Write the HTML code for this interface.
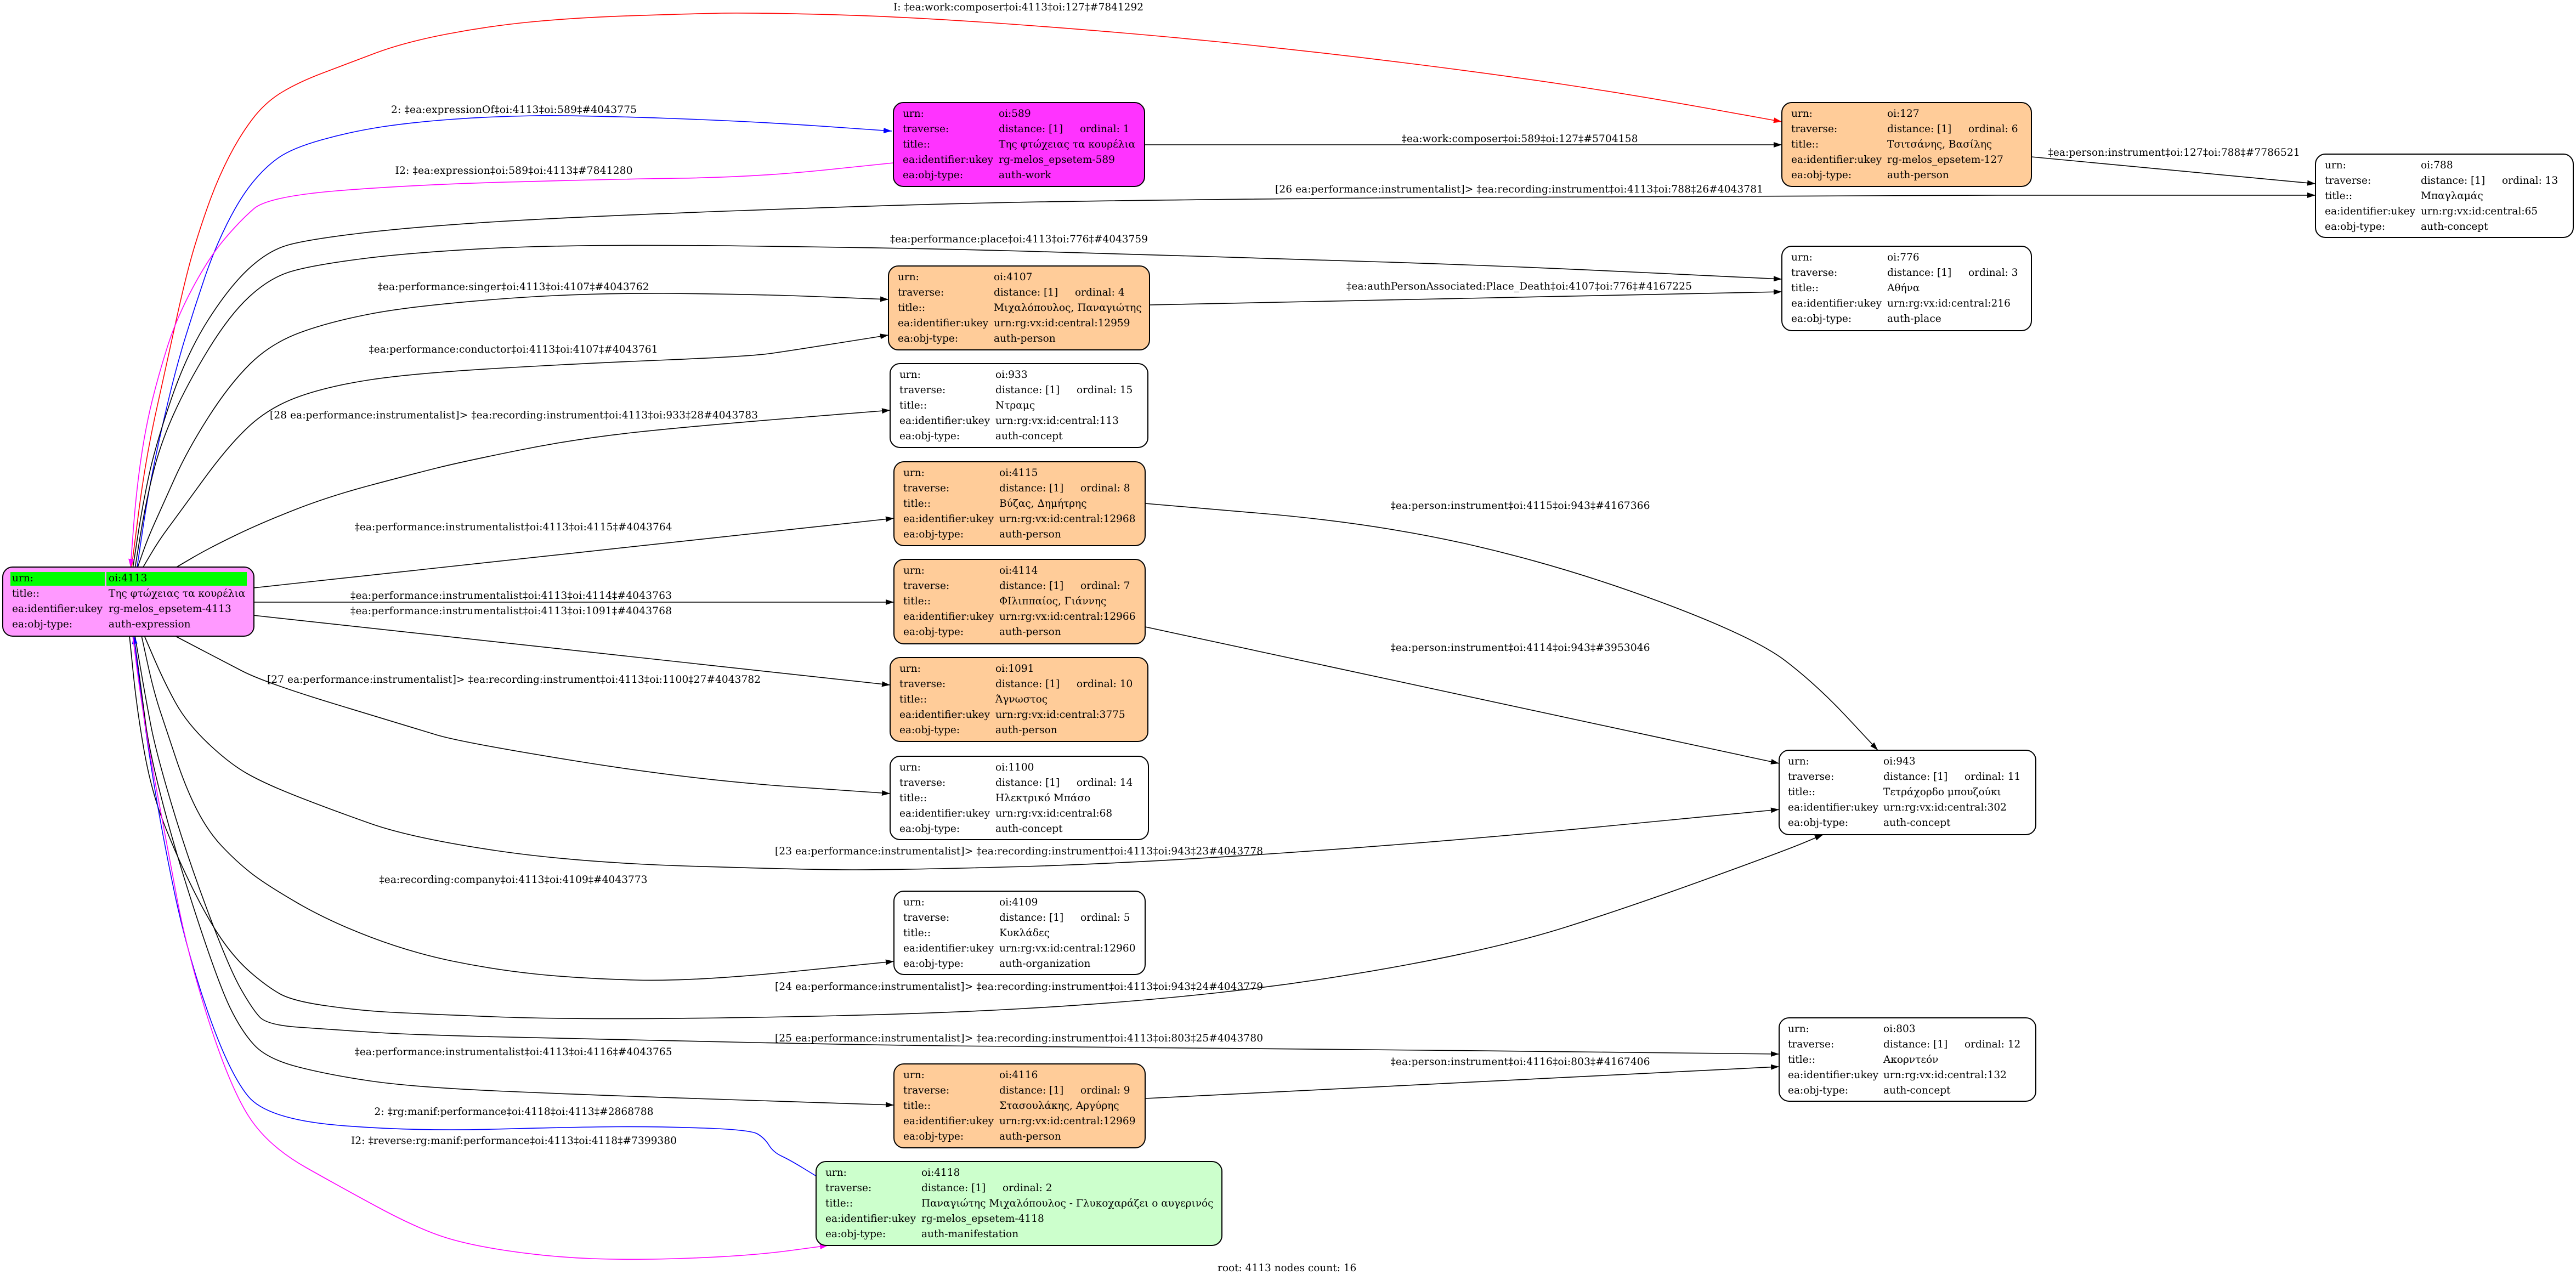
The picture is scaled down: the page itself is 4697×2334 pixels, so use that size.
<!DOCTYPE html>
<html><head><meta charset="utf-8"><style>
html,body{margin:0;padding:0;background:#fff;}
svg{display:block;}
text{font-family:"DejaVu Serif","Liberation Serif",serif;font-size:18.5px;fill:#000;}
</style></head><body>
<svg width="4697" height="2334" viewBox="0 0 4697 2334" xmlns="http://www.w3.org/2000/svg">
<defs>
<marker id="ak" markerUnits="userSpaceOnUse" markerWidth="16" markerHeight="12" refX="15" refY="6" orient="auto"><path d="M0,1 L15,6 L0,11 z" fill="#000"/></marker>
<marker id="ar" markerUnits="userSpaceOnUse" markerWidth="16" markerHeight="12" refX="15" refY="6" orient="auto"><path d="M0,1 L15,6 L0,11 z" fill="#f00"/></marker>
<marker id="ab" markerUnits="userSpaceOnUse" markerWidth="16" markerHeight="12" refX="15" refY="6" orient="auto"><path d="M0,1 L15,6 L0,11 z" fill="#00f"/></marker>
<marker id="am" markerUnits="userSpaceOnUse" markerWidth="16" markerHeight="12" refX="15" refY="6" orient="auto"><path d="M0,1 L15,6 L0,11 z" fill="#f0f"/></marker>
</defs>
<rect width="4697" height="2334" fill="#fff"/>

<!-- EDGES -->
<g fill="none" stroke-width="1.6" stroke-linejoin="round">
<path class="s" stroke="#f00" marker-end="url(#ar)" d="M240,1034 L265,839 L303,667 L341,494 L370,400 L399,322 L437,248 L483,187 L544,150 L631,117 L737,77 L894,47 L1052,32 L1263,25 L1368,23 L1650,30 L2050,59 L2388,93 L2725,135 L2978,173 L3249,222"/>
<path class="s" stroke="#00f" marker-end="url(#ab)" d="M250,1034 L270,900 L292,793 L322,667 L355,560 L391,454 L437,362 L483,305 L533,270 L640,240 L750,223 L900,212 L1052,210 L1368,221 L1626,239"/>
<path class="s" stroke="#f0f" marker-end="url(#am)" d="M1629,297 L1378,323 L1100,327 L750,337 L489,358 L437,403 L380,471 L322,580 L290,680 L265,781 L248,900 L238,1034"/>
<path stroke="#000" marker-end="url(#ak)" d="M2087,264 L3249,264"/>
<path stroke="#000" marker-end="url(#ak)" d="M3704,286 L4222,335"/>
<path class="s" stroke="#000" marker-end="url(#ak)" d="M242,1037 L260,920 L284,810 L341,644 L418,523 L489,457 L560,437 L750,414 L1052,395 L1650,373 L2050,365 L3063,356 L4222,356"/>
<path class="s" stroke="#000" marker-end="url(#ak)" d="M246,1037 L265,920 L292,810 L341,701 L418,575 L489,509 L560,485 L750,460 L1052,445 L1650,452 L2050,463 L2303,471 L2725,484 L3249,509"/>
<path stroke="#000" marker-end="url(#ak)" d="M2096,556 L3249,532"/>
<path class="s" stroke="#000" marker-end="url(#ak)" d="M250,1037 L270,980 L295,925 L341,822 L418,701 L494,626 L600,587 L750,558 L1052,534 L1368,536 L1620,546"/>
<path class="s" stroke="#000" marker-end="url(#ak)" d="M261,1034 L290,985 L322,942 L418,810 L494,741 L600,704 L750,681 L1052,663 L1368,650 L1450,638 L1620,611"/>
<path class="s" stroke="#000" marker-end="url(#ak)" d="M322,1034 L380,1000 L475,954 L600,905 L750,865 L842,842 L1050,800 L1263,777 L1623,748"/>
<path stroke="#000" marker-end="url(#ak)" d="M462,1072 L1630,945"/>
<path stroke="#000" marker-end="url(#ak)" d="M463,1098 L1630,1098"/>
<path stroke="#000" marker-end="url(#ak)" d="M462,1122 L1623,1249"/>
<path class="s" stroke="#000" marker-end="url(#ak)" d="M318,1159 L400,1202 L483,1245 L750,1326 L842,1354 L1263,1422 L1623,1447"/>
<path class="s" stroke="#000" marker-end="url(#ak)" d="M263,1159 L300,1245 L341,1319 L418,1392 L483,1429 L600,1475 L750,1528 L1052,1573 L1473,1586 L1650,1586 L2050,1575 L2624,1536 L3244,1476"/>
<path class="s" stroke="#000" marker-end="url(#ak)" d="M258,1159 L280,1260 L303,1330 L340,1440 L380,1517 L430,1570 L483,1612 L600,1680 L750,1737 L900,1768 L1052,1784 L1263,1790 L1630,1753"/>
<path class="s" stroke="#000" marker-end="url(#ak)" d="M236,1159 L250,1297 L276,1443 L322,1561 L380,1678 L430,1750 L487,1799 L533,1825 L650,1842 L750,1848 L1052,1860 L1650,1851 L2050,1829 L2394,1791 L2739,1727 L2968,1655 L3255,1551 L3324,1522"/>
<path class="s" stroke="#000" marker-end="url(#ak)" d="M246,1159 L265,1270 L284,1370 L341,1561 L418,1766 L460,1840 L487,1869 L600,1877 L750,1887 L1052,1894 L1650,1907 L2050,1909 L3244,1922"/>
<path class="s" stroke="#000" marker-end="url(#ak)" d="M244,1159 L258,1260 L272,1370 L322,1561 L399,1795 L440,1880 L487,1931 L600,1960 L750,1982 L1052,1996 L1630,2015"/>
<path class="s" stroke="#000" marker-end="url(#ak)" d="M2088,918 L2509,954 L2854,1033 L3198,1161 L3313,1249 L3424,1368"/>
<path stroke="#000" marker-end="url(#ak)" d="M2088,1143 L3244,1392"/>
<path stroke="#000" marker-end="url(#ak)" d="M2088,2003 L3244,1945"/>
<path class="s" stroke="#00f" marker-end="url(#ab)" d="M1489,2145 L1440,2115 L1410,2101 L1394,2075 L1368,2060 L1200,2054 L1052,2055 L750,2063 L487,2041 L418,1957 L341,1737 L295,1517 L265,1333 L244,1159"/>
<path class="s" stroke="#f0f" marker-end="url(#am)" d="M242,1159 L255,1260 L272,1370 L303,1531 L341,1737 L418,1979 L487,2089 L631,2170 L750,2234 L842,2268 L1000,2292 L1158,2298 L1368,2290 L1510,2271"/>
</g>

<!-- EDGE LABELS -->
<g text-anchor="middle">
<text x="1857" y="19" textLength="456">I: ‡ea:work:composer‡oi:4113‡oi:127‡#7841292</text>
<text x="937" y="206" textLength="448">2: ‡ea:expressionOf‡oi:4113‡oi:589‡#4043775</text>
<text x="937" y="317" textLength="433">I2: ‡ea:expression‡oi:589‡oi:4113‡#7841280</text>
<text x="2771" y="259" textLength="431">‡ea:work:composer‡oi:589‡oi:127‡#5704158</text>
<text x="3964" y="284" textLength="459">‡ea:person:instrument‡oi:127‡oi:788‡#7786521</text>
<text x="2770" y="351" textLength="890">[26 ea:performance:instrumentalist]&gt; ‡ea:recording:instrument‡oi:4113‡oi:788‡26#4043781</text>
<text x="1858" y="442" textLength="470">‡ea:performance:place‡oi:4113‡oi:776‡#4043759</text>
<text x="2770" y="528" textLength="630">‡ea:authPersonAssociated:Place_Death‡oi:4107‡oi:776‡#4167225</text>
<text x="936" y="529" textLength="495">‡ea:performance:singer‡oi:4113‡oi:4107‡#4043762</text>
<text x="936" y="643" textLength="527">‡ea:performance:conductor‡oi:4113‡oi:4107‡#4043761</text>
<text x="937" y="763" textLength="890">[28 ea:performance:instrumentalist]&gt; ‡ea:recording:instrument‡oi:4113‡oi:933‡28#4043783</text>
<text x="936" y="967" textLength="579">‡ea:performance:instrumentalist‡oi:4113‡oi:4115‡#4043764</text>
<text x="932" y="1092" textLength="586">‡ea:performance:instrumentalist‡oi:4113‡oi:4114‡#4043763</text>
<text x="932" y="1120" textLength="586">‡ea:performance:instrumentalist‡oi:4113‡oi:1091‡#4043768</text>
<text x="937" y="1245" textLength="900">[27 ea:performance:instrumentalist]&gt; ‡ea:recording:instrument‡oi:4113‡oi:1100‡27#4043782</text>
<text x="2772" y="928" textLength="473">‡ea:person:instrument‡oi:4115‡oi:943‡#4167366</text>
<text x="2772" y="1187" textLength="473">‡ea:person:instrument‡oi:4114‡oi:943‡#3953046</text>
<text x="1858" y="1558" textLength="890">[23 ea:performance:instrumentalist]&gt; ‡ea:recording:instrument‡oi:4113‡oi:943‡23#4043778</text>
<text x="936" y="1610" textLength="489">‡ea:recording:company‡oi:4113‡oi:4109‡#4043773</text>
<text x="1858" y="1805" textLength="890">[24 ea:performance:instrumentalist]&gt; ‡ea:recording:instrument‡oi:4113‡oi:943‡24#4043779</text>
<text x="1858" y="1899" textLength="890">[25 ea:performance:instrumentalist]&gt; ‡ea:recording:instrument‡oi:4113‡oi:803‡25#4043780</text>
<text x="936" y="1924" textLength="579">‡ea:performance:instrumentalist‡oi:4113‡oi:4116‡#4043765</text>
<text x="2772" y="1942" textLength="473">‡ea:person:instrument‡oi:4116‡oi:803‡#4167406</text>
<text x="937" y="2033" textLength="509">2: ‡rg:manif:performance‡oi:4118‡oi:4113‡#2868788</text>
<text x="937" y="2086" textLength="594">I2: ‡reverse:rg:manif:performance‡oi:4113‡oi:4118‡#7399380</text>
</g>
<text x="2220" y="2318">root: 4113 nodes count: 16</text>

<!-- NODES -->
<g stroke="#000" stroke-width="2">
<rect x="5" y="1034" width="458" height="126" rx="18" fill="#ff99ff"/>
<rect x="1629" y="187" width="458" height="153" rx="18" fill="#ff33ff"/>
<rect x="3249" y="187" width="455" height="153" rx="18" fill="#ffcc99"/>
<rect x="4222" y="281" width="470" height="152" rx="18" fill="#ffffff"/>
<rect x="3249" y="449" width="455" height="154" rx="18" fill="#ffffff"/>
<rect x="1620" y="485" width="476" height="153" rx="18" fill="#ffcc99"/>
<rect x="1623" y="663" width="470" height="153" rx="18" fill="#ffffff"/>
<rect x="1630" y="842" width="458" height="153" rx="18" fill="#ffcc99"/>
<rect x="1630" y="1020" width="458" height="154" rx="18" fill="#ffcc99"/>
<rect x="1623" y="1199" width="470" height="153" rx="18" fill="#ffcc99"/>
<rect x="1623" y="1379" width="471" height="152" rx="18" fill="#ffffff"/>
<rect x="1630" y="1625" width="458" height="152" rx="18" fill="#ffffff"/>
<rect x="1630" y="1940" width="458" height="153" rx="18" fill="#ffcc99"/>
<rect x="1488" y="2118" width="740" height="153" rx="18" fill="#ccffcc"/>
<rect x="3244" y="1368" width="468" height="154" rx="18" fill="#ffffff"/>
<rect x="3244" y="1856" width="468" height="152" rx="18" fill="#ffffff"/>
</g>
<rect x="19" y="1043" width="172" height="25" fill="#00ff00"/>
<rect x="194" y="1043" width="256" height="25" fill="#00ff00"/>

<!-- NODE TEXT -->
<g>
<text x="22" y="1060">urn:</text><text x="198" y="1060">oi:4113</text>
<text x="22" y="1088">title::</text><text x="198" y="1088">Της φτώχειας τα κουρέλια</text>
<text x="22" y="1116">ea:identifier:ukey</text><text x="198" y="1116">rg-melos_epsetem-4113</text>
<text x="22" y="1144">ea:obj-type:</text><text x="198" y="1144">auth-expression</text>

<text x="1646" y="213">urn:</text><text x="1821" y="213">oi:589</text>
<text x="1646" y="241">traverse:</text><text x="1821" y="241">distance: [1]</text><text x="1969" y="241">ordinal: 1</text>
<text x="1646" y="269">title::</text><text x="1821" y="269">Της φτώχειας τα κουρέλια</text>
<text x="1646" y="297">ea:identifier:ukey</text><text x="1821" y="297">rg-melos_epsetem-589</text>
<text x="1646" y="325">ea:obj-type:</text><text x="1821" y="325">auth-work</text>

<text x="3266" y="213">urn:</text><text x="3441" y="213">oi:127</text>
<text x="3266" y="241">traverse:</text><text x="3441" y="241">distance: [1]</text><text x="3589" y="241">ordinal: 6</text>
<text x="3266" y="269">title::</text><text x="3441" y="269">Τσιτσάνης, Βασίλης</text>
<text x="3266" y="297">ea:identifier:ukey</text><text x="3441" y="297">rg-melos_epsetem-127</text>
<text x="3266" y="325">ea:obj-type:</text><text x="3441" y="325">auth-person</text>

<text x="4239" y="307">urn:</text><text x="4414" y="307">oi:788</text>
<text x="4239" y="335">traverse:</text><text x="4414" y="335">distance: [1]</text><text x="4562" y="335">ordinal: 13</text>
<text x="4239" y="363">title::</text><text x="4414" y="363">Μπαγλαμάς</text>
<text x="4239" y="391">ea:identifier:ukey</text><text x="4414" y="391">urn:rg:vx:id:central:65</text>
<text x="4239" y="419">ea:obj-type:</text><text x="4414" y="419">auth-concept</text>

<text x="3266" y="475">urn:</text><text x="3441" y="475">oi:776</text>
<text x="3266" y="503">traverse:</text><text x="3441" y="503">distance: [1]</text><text x="3589" y="503">ordinal: 3</text>
<text x="3266" y="531">title::</text><text x="3441" y="531">Αθήνα</text>
<text x="3266" y="559">ea:identifier:ukey</text><text x="3441" y="559">urn:rg:vx:id:central:216</text>
<text x="3266" y="587">ea:obj-type:</text><text x="3441" y="587">auth-place</text>

<text x="1637" y="511">urn:</text><text x="1812" y="511">oi:4107</text>
<text x="1637" y="539">traverse:</text><text x="1812" y="539">distance: [1]</text><text x="1960" y="539">ordinal: 4</text>
<text x="1637" y="567">title::</text><text x="1812" y="567">Μιχαλόπουλος, Παναγιώτης</text>
<text x="1637" y="595">ea:identifier:ukey</text><text x="1812" y="595">urn:rg:vx:id:central:12959</text>
<text x="1637" y="623">ea:obj-type:</text><text x="1812" y="623">auth-person</text>

<text x="1640" y="689">urn:</text><text x="1815" y="689">oi:933</text>
<text x="1640" y="717">traverse:</text><text x="1815" y="717">distance: [1]</text><text x="1963" y="717">ordinal: 15</text>
<text x="1640" y="745">title::</text><text x="1815" y="745">Ντραμς</text>
<text x="1640" y="773">ea:identifier:ukey</text><text x="1815" y="773">urn:rg:vx:id:central:113</text>
<text x="1640" y="801">ea:obj-type:</text><text x="1815" y="801">auth-concept</text>

<text x="1647" y="868">urn:</text><text x="1822" y="868">oi:4115</text>
<text x="1647" y="896">traverse:</text><text x="1822" y="896">distance: [1]</text><text x="1970" y="896">ordinal: 8</text>
<text x="1647" y="924">title::</text><text x="1822" y="924">Βύζας, Δημήτρης</text>
<text x="1647" y="952">ea:identifier:ukey</text><text x="1822" y="952">urn:rg:vx:id:central:12968</text>
<text x="1647" y="980">ea:obj-type:</text><text x="1822" y="980">auth-person</text>

<text x="1647" y="1046">urn:</text><text x="1822" y="1046">oi:4114</text>
<text x="1647" y="1074">traverse:</text><text x="1822" y="1074">distance: [1]</text><text x="1970" y="1074">ordinal: 7</text>
<text x="1647" y="1102">title::</text><text x="1822" y="1102">ΦΙλιππαίος, Γιάννης</text>
<text x="1647" y="1130">ea:identifier:ukey</text><text x="1822" y="1130">urn:rg:vx:id:central:12966</text>
<text x="1647" y="1158">ea:obj-type:</text><text x="1822" y="1158">auth-person</text>

<text x="1640" y="1225">urn:</text><text x="1815" y="1225">oi:1091</text>
<text x="1640" y="1253">traverse:</text><text x="1815" y="1253">distance: [1]</text><text x="1963" y="1253">ordinal: 10</text>
<text x="1640" y="1281">title::</text><text x="1815" y="1281">Άγνωστος</text>
<text x="1640" y="1309">ea:identifier:ukey</text><text x="1815" y="1309">urn:rg:vx:id:central:3775</text>
<text x="1640" y="1337">ea:obj-type:</text><text x="1815" y="1337">auth-person</text>

<text x="1640" y="1405">urn:</text><text x="1815" y="1405">oi:1100</text>
<text x="1640" y="1433">traverse:</text><text x="1815" y="1433">distance: [1]</text><text x="1963" y="1433">ordinal: 14</text>
<text x="1640" y="1461">title::</text><text x="1815" y="1461">Ηλεκτρικό Μπάσο</text>
<text x="1640" y="1489">ea:identifier:ukey</text><text x="1815" y="1489">urn:rg:vx:id:central:68</text>
<text x="1640" y="1517">ea:obj-type:</text><text x="1815" y="1517">auth-concept</text>

<text x="1647" y="1651">urn:</text><text x="1822" y="1651">oi:4109</text>
<text x="1647" y="1679">traverse:</text><text x="1822" y="1679">distance: [1]</text><text x="1970" y="1679">ordinal: 5</text>
<text x="1647" y="1707">title::</text><text x="1822" y="1707">Κυκλάδες</text>
<text x="1647" y="1735">ea:identifier:ukey</text><text x="1822" y="1735">urn:rg:vx:id:central:12960</text>
<text x="1647" y="1763">ea:obj-type:</text><text x="1822" y="1763">auth-organization</text>

<text x="1647" y="1966">urn:</text><text x="1822" y="1966">oi:4116</text>
<text x="1647" y="1994">traverse:</text><text x="1822" y="1994">distance: [1]</text><text x="1970" y="1994">ordinal: 9</text>
<text x="1647" y="2022">title::</text><text x="1822" y="2022">Στασουλάκης, Αργύρης</text>
<text x="1647" y="2050">ea:identifier:ukey</text><text x="1822" y="2050">urn:rg:vx:id:central:12969</text>
<text x="1647" y="2078">ea:obj-type:</text><text x="1822" y="2078">auth-person</text>

<text x="1505" y="2144">urn:</text><text x="1680" y="2144">oi:4118</text>
<text x="1505" y="2172">traverse:</text><text x="1680" y="2172">distance: [1]</text><text x="1828" y="2172">ordinal: 2</text>
<text x="1505" y="2200">title::</text><text x="1680" y="2200">Παναγιώτης Μιχαλόπουλος - Γλυκοχαράζει ο αυγερινός</text>
<text x="1505" y="2228">ea:identifier:ukey</text><text x="1680" y="2228">rg-melos_epsetem-4118</text>
<text x="1505" y="2256">ea:obj-type:</text><text x="1680" y="2256">auth-manifestation</text>

<text x="3260" y="1394">urn:</text><text x="3434" y="1394">oi:943</text>
<text x="3260" y="1422">traverse:</text><text x="3434" y="1422">distance: [1]</text><text x="3582" y="1422">ordinal: 11</text>
<text x="3260" y="1450">title::</text><text x="3434" y="1450">Τετράχορδο μπουζούκι</text>
<text x="3260" y="1478">ea:identifier:ukey</text><text x="3434" y="1478">urn:rg:vx:id:central:302</text>
<text x="3260" y="1506">ea:obj-type:</text><text x="3434" y="1506">auth-concept</text>

<text x="3260" y="1882">urn:</text><text x="3434" y="1882">oi:803</text>
<text x="3260" y="1910">traverse:</text><text x="3434" y="1910">distance: [1]</text><text x="3582" y="1910">ordinal: 12</text>
<text x="3260" y="1938">title::</text><text x="3434" y="1938">Ακορντεόν</text>
<text x="3260" y="1966">ea:identifier:ukey</text><text x="3434" y="1966">urn:rg:vx:id:central:132</text>
<text x="3260" y="1994">ea:obj-type:</text><text x="3434" y="1994">auth-concept</text>
</g>
</svg>
<script>
(function(){
var ps=document.querySelectorAll('path.s');
for(var k=0;k<ps.length;k++){
var p=ps[k];var n=p.getAttribute('d').match(/-?[\d.]+/g).map(Number);
var P=[];for(var i=0;i+1<n.length;i+=2)P.push([n[i],n[i+1]]);
if(P.length<3)continue;
var m=function(a,b){return ((a[0]+b[0])/2)+','+((a[1]+b[1])/2);};
var d='M'+P[0][0]+','+P[0][1]+' L'+m(P[0],P[1]);
for(var j=1;j<P.length-1;j++){d+=' Q'+P[j][0]+','+P[j][1]+' '+m(P[j],P[j+1]);}
d+=' L'+P[P.length-1][0]+','+P[P.length-1][1];
p.setAttribute('d',d);
}
})();
</script>
</body></html>
